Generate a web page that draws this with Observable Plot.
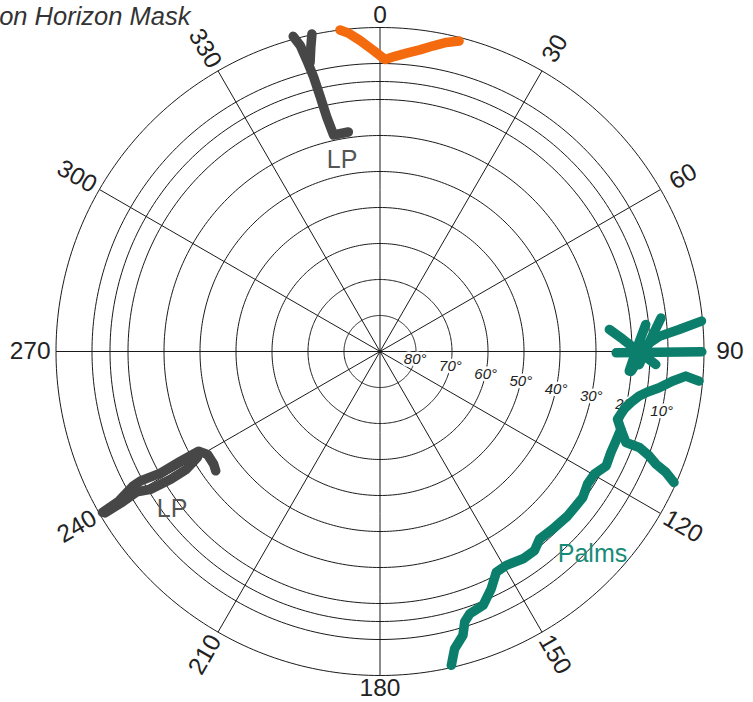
<!DOCTYPE html>
<html>
<head>
<meta charset="utf-8">
<script src="https://cdn.jsdelivr.net/npm/d3@7"></script>
<script src="https://cdn.jsdelivr.net/npm/@observablehq/plot@0.6"></script>
<style>
  body { margin: 0; background: #fff; }
  #chart svg { display: block; }
</style>
</head>
<body>
<div id="chart"></div>
<script>
// ---- text ----
const titleText = "on Horizon Mask";

// ---- grid ----
const altitudeRings = [0, 10, 15, 20, 30, 40, 50, 60, 70, 80];
const ringLabels = [80, 70, 60, 50, 40, 30, 20, 10];
const azimuthTicks = [0, 30, 60, 90, 120, 150, 180, 210, 240, 270, 300, 330];

// ---- horizon mask traces: [azimuth°, altitude°] ----
const orangeMask = [[-7.1, 0], [-5.7, 1.1], [-3.7, 3.4], [-1.3, 6.3], [1.0, 8.9], [2.9, 7.9], [5.1, 6.8], [7.5, 5.5], [9.9, 3.8], [12.1, 2.2], [14.3, 1.0]];

const lpNorthMain = [[-15.4, -0.8], [-14.6, 2.2], [-14.0, 7.6], [-13.6, 11.5], [-13.2, 17.4], [-12.8, 23.2], [-12.1, 28.5], [-8.2, 28.4]];
const lpNorthBranch = [[-12.1, -0.2], [-12.8, 3.3], [-13.6, 7.4]];

const lpSouthA = [[239.9, 0.9], [240.2, 6.4], [241.4, 11.8], [241.6, 14.4], [241.0, 20.3], [241.2, 26.8], [241.2, 32.5], [239.2, 34.2], [235.9, 34.2], [234.0, 33.6]];
const lpSouthB = [[239.6, 1.4], [239.7, 7.2], [240.0, 12.0], [239.0, 15.7], [238.6, 21.9], [238.7, 27.1], [239.9, 31.4]];

const palmsHorizontal = [[90.05, 0.6], [90.3, 24.4]];
const palmsUpper = [[84.6, 0.3], [85.8, 6.7], [86.9, 12.3], [88.5, 15.8], [94.5, 20.0]];
const palmsFrond = [[83.2, 11.4], [88.1, 15.2], [92.9, 17.9]];
const palmsDiagonal = [[84.5, 26.0], [89.55, 18.9], [92.7, 13.3]];
const palmsTrunk = [[84.2, 15.8], [89.1, 18.55], [94.5, 20.55]];
const palmsMain = [[95.3, 1.0], [94.6, 4.8], [95.8, 8.4], [97.4, 11.8], [98.6, 14.85], [99.75, 16.95], [101.5, 18.9], [103.2, 20.3], [105.9, 21.4], [107.9, 19.7], [110.75, 19.9], [113.6, 20.0], [116.8, 19.6], [119.8, 21.4], [122.55, 21.6], [125.75, 20.6], [128.2, 20.7], [131.2, 20.7], [135.8, 21.2], [139.6, 21.6], [142.2, 20.0], [145.4, 20.05], [149.45, 21.0], [152.2, 20.7], [154.9, 17.2], [157.9, 13.9], [161.1, 13.0], [162.6, 11.3], [163.7, 7.9], [165.9, 4.9], [167.2, 0.6]];
const palmsBranch = [[107.9, 19.7], [110.3, 17.15], [110.3, 13.2], [111.2, 9.8], [112.2, 7.2], [112.9, 3.8], [114.0, 0.6]];

// ---- annotations ----
const annotationNames = ["LP", "LP", "Palms"];
const annotationAz = [348.8, 232.8, 133.55];
const annotationAlt = [35.9, 17.5, 8.55];

// colours
const orange = "#f36a0f";
const gray = "#474747";
const teal = "#0b7f6c";

// azimuth (clockwise from top) -> longitude of a north-pole-centred projection
const lon = (az) => 180 - az;

const toRows = (series, pts) => pts.map(([az, alt]) => ({series, az, alt}));
const orangeRows = toRows("orange", orangeMask);
const grayRows = [
  ...toRows("lpN1", lpNorthMain), ...toRows("lpN2", lpNorthBranch),
  ...toRows("lpS1", lpSouthA), ...toRows("lpS2", lpSouthB)
];
const tealRows = [
  ...toRows("p1", palmsHorizontal), ...toRows("p2", palmsUpper), ...toRows("p3", palmsFrond),
  ...toRows("p4", palmsDiagonal), ...toRows("p5", palmsTrunk), ...toRows("p6", palmsMain),
  ...toRows("p7", palmsBranch)
];

const rings = altitudeRings.map(a => d3.geoCircle().center([0, 90]).radius(90 - a).precision(1)());

const annotations = annotationNames.map((name, i) => ({name, az: annotationAz[i], alt: annotationAlt[i]}));

const font = "'Liberation Sans', Arial, sans-serif";

const labelAlt = (d) => (d % 180 === 0 ? -3.4 : -7.2);
const labelRot = (d) => (d % 180 === 0 ? 0 : (d % 180) - 90);

const lineStyle = {strokeWidth: 9.5, strokeLinecap: "round", strokeLinejoin: "round"};

const chart = Plot.plot({
  width: 753,
  height: 702,
  marginLeft: 55.5,
  marginRight: 49.5,
  marginTop: 27,
  marginBottom: 27,
  style: {background: "#fff", fontFamily: font},
  projection: {
    type: "azimuthal-equidistant",
    rotate: [0, -90],
    domain: d3.geoCircle().center([0, 90]).radius(90)(),
    clip: false
  },
  marks: [
    Plot.geo(rings, {stroke: "#1a1a1a", strokeWidth: 1, fill: "none"}),
    Plot.link(azimuthTicks, {x1: d => lon(d), y1: 90, x2: d => lon(d), y2: 0, stroke: "#1a1a1a", strokeWidth: 1}),
    Plot.text(ringLabels, {
      x: lon(102), y: d => d, text: d => `${d}°`,
      fontSize: 15, fontStyle: "italic", fill: "#222",
      stroke: "#fff", strokeWidth: 5
    }),
    Plot.text(azimuthTicks, {
      x: d => lon(d), y: labelAlt, text: d => `${d}`,
      rotate: labelRot, fontSize: 24.5, fill: "#222"
    }),
    Plot.line(orangeRows, {x: d => lon(d.az), y: "alt", z: "series", stroke: orange, ...lineStyle}),
    Plot.line(grayRows, {x: d => lon(d.az), y: "alt", z: "series", stroke: gray, ...lineStyle}),
    Plot.line(tealRows, {x: d => lon(d.az), y: "alt", z: "series", stroke: teal, ...lineStyle}),
    Plot.text(annotations, {
      x: d => lon(d.az), y: "alt", text: "name", fontSize: 25,
      fill: d => (d.name === "Palms" ? "#178b77" : "#555")
    }),
    Plot.text([titleText], {
      frameAnchor: "top-left", dx: 134.5, dy: -3, textAnchor: "end", lineAnchor: "bottom",
      fontSize: 25.5, fontStyle: "italic", fill: "#333"
    })
  ]
});

document.getElementById("chart").appendChild(chart);
</script>
</body>
</html>
